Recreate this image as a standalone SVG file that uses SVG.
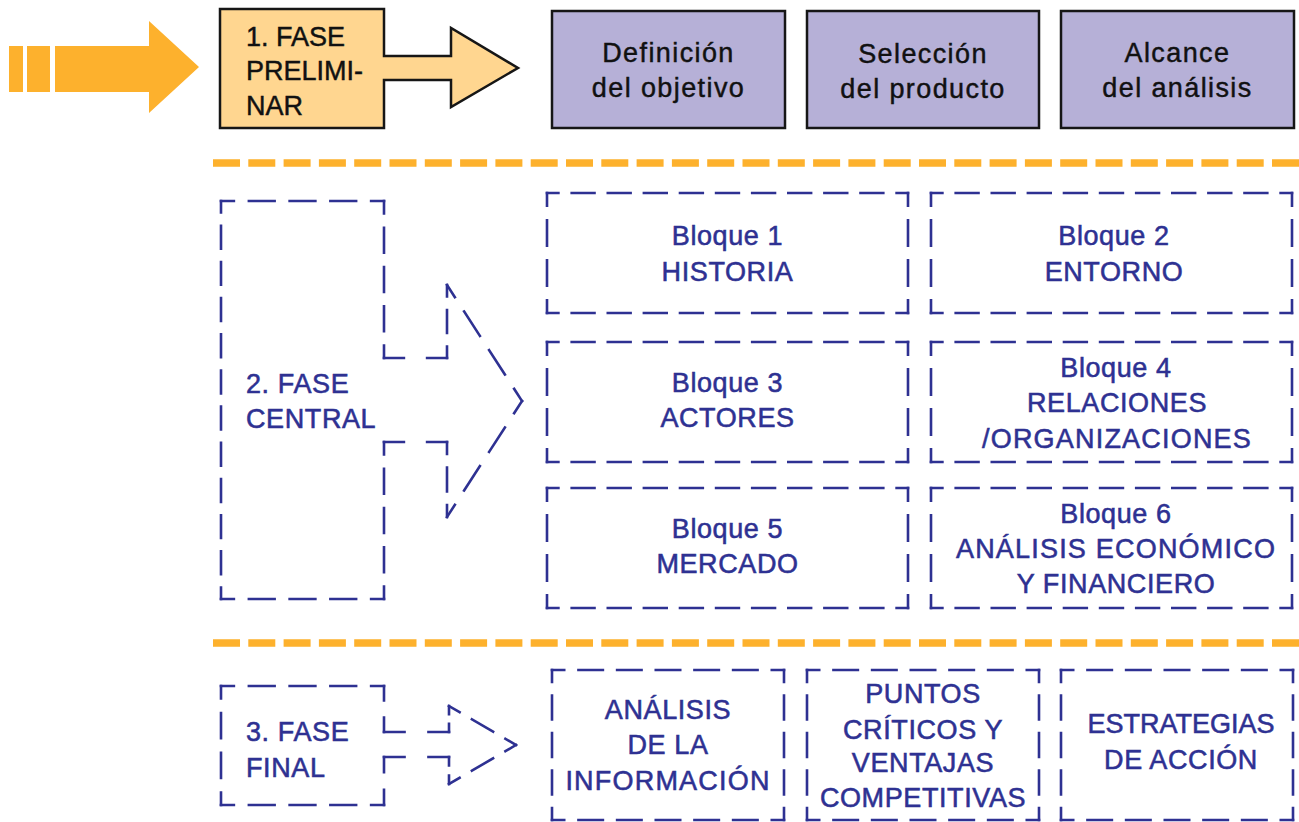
<svg xmlns="http://www.w3.org/2000/svg" xmlns:xlink="http://www.w3.org/1999/xlink" width="1299" height="822" viewBox="0 0 1299 822">
  <style>
    text { font-family: "Liberation Sans", Arial, sans-serif; font-size: 27px; }
    .blue { fill: #2e3192; stroke: #2e3192; stroke-width: 0.55px; letter-spacing: 0.6px; }
    .wide { letter-spacing: 1.2px; }
    .dark { fill: #111111; stroke: #111111; stroke-width: 0.45px; }
    .lc { letter-spacing: 1.4px; }
    .mid { text-anchor: middle; }
    .d { stroke: #2e3192; stroke-width: 2.6; fill: none; stroke-linecap: square;
         stroke-dasharray: 24 14; stroke-dashoffset: 12; }
    .sep { stroke: #fdb12d; stroke-width: 7.5; stroke-dasharray: 27 8.3; fill: none; }
    .purple { fill: #b6b0d7; stroke: #161616; stroke-width: 2.5; }
  </style>

  <defs>
    <!-- dashed frame 361 x 120 used by the six blocks -->
    <g id="blockFrame">
      <line class="d" x1="0" y1="0" x2="361" y2="0" pathLength="380"/>
      <line class="d" x1="361" y1="0" x2="361" y2="120" pathLength="114"/>
      <line class="d" x1="361" y1="120" x2="0" y2="120" pathLength="380"/>
      <line class="d" x1="0" y1="120" x2="0" y2="0" pathLength="114"/>
    </g>
    <!-- dashed frame 232 x 150 used by the final-phase cards -->
    <g id="cardFrame">
      <line class="d" x1="0" y1="0" x2="232" y2="0" pathLength="228"/>
      <line class="d" x1="232" y1="0" x2="232" y2="150" pathLength="152"/>
      <line class="d" x1="232" y1="150" x2="0" y2="150" pathLength="228"/>
      <line class="d" x1="0" y1="150" x2="0" y2="0" pathLength="152"/>
    </g>
  </defs>

  <!-- incoming arrow -->
  <g id="connectors" fill="#fdb12d">
    <rect x="9" y="46" width="14" height="46"/>
    <rect x="27" y="46" width="23" height="46"/>
    <polygon points="55,46 149,46 149,21 199,67 149,113 149,92 55,92"/>
  </g>

  <!-- section separators -->
  <g id="separators">
    <line class="sep" x1="213" y1="163" x2="1299" y2="163"/>
    <line class="sep" x1="213" y1="643" x2="1299" y2="643"/>
  </g>

  <!-- phase 1 -->
  <g id="fase-preliminar">
    <polygon points="220,9 384,9 384,56 451,56 451,28 518,68 451,107 451,80 384,80 384,128 220,128"
             fill="#ffd690" stroke="#161616" stroke-width="2.5" stroke-linejoin="miter"/>
    <text class="dark" x="246" y="46">1. FASE</text>
    <text class="dark" x="246" y="80">PRELIMI-</text>
    <text class="dark" x="246" y="115">NAR</text>
  </g>

  <g id="definicion-objetivo">
    <rect class="purple" x="552" y="11" width="233" height="117"/>
    <text class="dark lc mid" x="668.5" y="62">Definición</text>
    <text class="dark lc mid" x="668.5" y="97">del objetivo</text>
  </g>
  <g id="seleccion-producto">
    <rect class="purple" x="807" y="11" width="232" height="117"/>
    <text class="dark lc mid" x="923" y="63">Selección</text>
    <text class="dark lc mid" x="923" y="98">del producto</text>
  </g>
  <g id="alcance-analisis">
    <rect class="purple" x="1061" y="11" width="233" height="117"/>
    <text class="dark lc mid" x="1177.5" y="62">Alcance</text>
    <text class="dark lc mid" x="1177.5" y="97">del análisis</text>
  </g>

  <!-- phase 2 -->
  <g id="fase-central">
    <line class="d" x1="221" y1="201" x2="384" y2="201" pathLength="152"/>
    <line class="d" x1="384" y1="201" x2="384" y2="358" pathLength="152"/>
    <line class="d" x1="384" y1="358" x2="447" y2="358" pathLength="38"/>
    <line class="d" x1="447" y1="358" x2="447" y2="285" pathLength="76"/>
    <line class="d" x1="447" y1="285" x2="522" y2="401" pathLength="114"/>
    <line class="d" x1="522" y1="401" x2="447" y2="517" pathLength="114"/>
    <line class="d" x1="447" y1="517" x2="447" y2="442" pathLength="76"/>
    <line class="d" x1="447" y1="442" x2="384" y2="442" pathLength="38"/>
    <line class="d" x1="384" y1="442" x2="384" y2="599" pathLength="152"/>
    <line class="d" x1="384" y1="599" x2="221" y2="599" pathLength="152"/>
    <line class="d" x1="221" y1="599" x2="221" y2="201" pathLength="418"/>
    <text class="blue" x="246" y="393">2. FASE</text>
    <text class="blue" x="246" y="428">CENTRAL</text>
  </g>

  <g id="bloque-1">
    <use xlink:href="#blockFrame" x="547" y="193"/>
    <text class="blue mid" x="727.5" y="245">Bloque 1</text>
    <text class="blue mid" x="727.5" y="281">HISTORIA</text>
  </g>
  <g id="bloque-2">
    <use xlink:href="#blockFrame" x="931" y="193"/>
    <text class="blue mid" x="1114" y="245">Bloque 2</text>
    <text class="blue mid" x="1114" y="281">ENTORNO</text>
  </g>
  <g id="bloque-3">
    <use xlink:href="#blockFrame" x="547" y="342"/>
    <text class="blue mid" x="727.5" y="392">Bloque 3</text>
    <text class="blue mid" x="727.5" y="427">ACTORES</text>
  </g>
  <g id="bloque-4">
    <use xlink:href="#blockFrame" x="931" y="342"/>
    <text class="blue mid" x="1116" y="377">Bloque 4</text>
    <text class="blue mid" x="1117" y="412">RELACIONES</text>
    <text class="blue mid wide" x="1117" y="448">/ORGANIZACIONES</text>
  </g>
  <g id="bloque-5">
    <use xlink:href="#blockFrame" x="547" y="488"/>
    <text class="blue mid" x="727.5" y="538">Bloque 5</text>
    <text class="blue mid" x="727.5" y="573">MERCADO</text>
  </g>
  <g id="bloque-6">
    <use xlink:href="#blockFrame" x="931" y="488"/>
    <text class="blue mid" x="1116" y="523">Bloque 6</text>
    <text class="blue mid wide" x="1116" y="558">ANÁLISIS ECONÓMICO</text>
    <text class="blue mid" x="1116" y="593">Y FINANCIERO</text>
  </g>

  <!-- phase 3 -->
  <g id="fase-final">
    <line class="d" x1="221" y1="686" x2="384" y2="686" pathLength="152"/>
    <line class="d" x1="384" y1="686" x2="384" y2="732" pathLength="38"/>
    <line class="d" x1="384" y1="732" x2="449" y2="732" pathLength="38"/>
    <line class="d" x1="449" y1="732" x2="449" y2="706" pathLength="38"/>
    <line class="d" x1="449" y1="706" x2="516" y2="745" pathLength="76"/>
    <line class="d" x1="516" y1="745" x2="449" y2="784" pathLength="76"/>
    <line class="d" x1="449" y1="784" x2="449" y2="757" pathLength="38"/>
    <line class="d" x1="449" y1="757" x2="384" y2="757" pathLength="38"/>
    <line class="d" x1="384" y1="757" x2="384" y2="805" pathLength="38"/>
    <line class="d" x1="384" y1="805" x2="221" y2="805" pathLength="152"/>
    <line class="d" x1="221" y1="805" x2="221" y2="686" pathLength="114"/>
    <text class="blue" x="246" y="741">3. FASE</text>
    <text class="blue" x="246" y="777">FINAL</text>
  </g>

  <g id="analisis-informacion">
    <use xlink:href="#cardFrame" x="552" y="670"/>
    <text class="blue mid" x="668" y="719">ANÁLISIS</text>
    <text class="blue mid" x="668" y="754">DE LA</text>
    <text class="blue mid wide" x="668" y="790">INFORMACIÓN</text>
  </g>
  <g id="puntos-criticos">
    <use xlink:href="#cardFrame" x="807" y="670"/>
    <text class="blue mid" x="923" y="703">PUNTOS</text>
    <text class="blue mid" x="923" y="739">CRÍTICOS Y</text>
    <text class="blue mid" x="923" y="772">VENTAJAS</text>
    <text class="blue mid" x="923" y="807">COMPETITIVAS</text>
  </g>
  <g id="estrategias-accion">
    <use xlink:href="#cardFrame" x="1061" y="670"/>
    <text class="blue mid" x="1181" y="733" style="letter-spacing:0">ESTRATEGIAS</text>
    <text class="blue mid" x="1181" y="769">DE ACCIÓN</text>
  </g>
</svg>
